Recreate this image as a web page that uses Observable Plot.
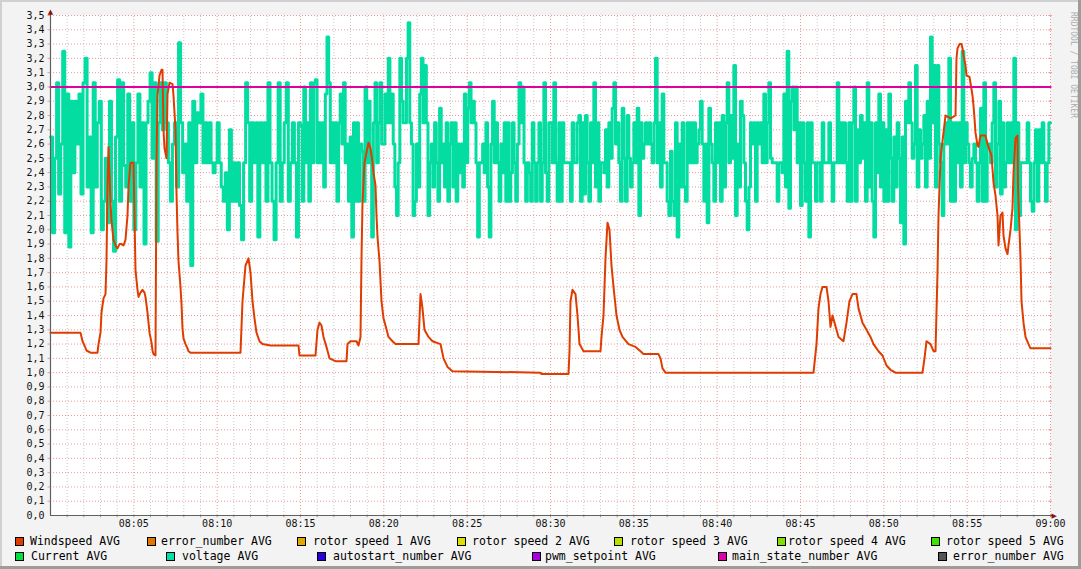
<!DOCTYPE html>
<html><head><meta charset="utf-8">
<script src="https://cdn.jsdelivr.net/npm/d3@7"></script>
<script src="https://cdn.jsdelivr.net/npm/@observablehq/plot@0.6"></script>
<style>
html,body{margin:0;padding:0;background:#fff;}
#wrap{position:relative;width:1081px;height:569px;background:#F3F3F3;overflow:hidden;font-family:"DejaVu Sans Mono",monospace;}
.edge{position:absolute;}
#chart{position:absolute;left:0;top:0;}
.sw{position:absolute;width:9px;height:9px;box-sizing:border-box;border:1px solid #000;}
.lt{position:absolute;font-size:11.5px;line-height:12px;color:#000;white-space:pre;}
#wm{position:absolute;left:1068px;top:12px;writing-mode:vertical-rl;font-size:8px;line-height:10px;color:#ADADAD;white-space:pre;}
</style></head><body>
<div id="wrap">
  <div id="chart"></div>
  <div id="legend"></div>
  <div id="wm">RRDTOOL / TOBI OETIKER</div>
  <div class="edge" style="left:0;top:0;width:1081px;height:2px;background:#D0D0D0"></div>
  <div class="edge" style="left:0;top:0;width:2px;height:569px;background:#D0D0D0"></div>
  <div class="edge" style="left:1078px;top:0;width:3px;height:569px;background:#9C9C9C"></div>
  <div class="edge" style="left:0;top:566px;width:1081px;height:3px;background:#9C9C9C"></div>
</div>
<script>
// ---- data ----
// Windspeed AVG: minutes after 08:00 and values
const windT = [0,1.8,1.92,2.04,2.16,2.4,2.82,2.88,3.0,3.06,3.18,3.3,3.36,3.42,3.48,3.6,3.66,3.78,3.9,4.02,4.14,4.26,4.38,4.5,4.62,4.68,4.8,4.98,5.1,5.22,5.28,5.4,5.52,5.64,5.7,5.82,5.88,5.94,6.06,6.12,6.18,6.3,6.36,6.42,6.54,6.66,6.72,6.78,6.84,6.96,7.02,7.14,7.32,7.38,7.5,7.56,7.62,7.68,7.8,7.86,7.92,7.98,8.1,8.22,8.28,8.4,11.4,11.52,11.7,11.88,12.0,12.12,12.24,12.36,12.54,12.72,13.2,14.88,14.94,15.9,16.02,16.14,16.26,16.38,16.56,16.74,17.1,17.76,17.82,18.0,18.36,18.48,18.6,18.66,18.72,18.84,19.08,19.2,19.32,19.38,19.5,19.56,19.62,19.74,19.86,19.98,20.1,20.28,20.52,20.7,22.08,22.2,22.32,22.44,22.68,22.92,23.4,23.58,23.82,24.12,29.4,29.46,31.08,31.14,31.2,31.32,31.5,31.62,31.74,31.98,33.0,33.06,33.18,33.3,33.42,33.54,33.66,33.78,33.96,34.14,34.32,34.68,35.1,35.4,35.58,36.48,36.6,36.72,36.9,45.78,45.96,46.08,46.2,46.32,46.56,46.68,46.8,46.92,47.04,47.28,47.58,47.76,47.94,48.12,48.36,48.48,48.72,48.96,49.2,49.38,49.68,49.92,50.16,50.4,50.7,52.32,52.44,52.56,52.8,52.98,53.1,53.22,53.28,53.4,53.7,54.0,54.3,54.36,54.42,54.54,54.66,54.72,54.78,54.9,54.96,55.14,55.32,55.38,55.44,55.5,55.62,55.68,55.8,56.1,56.22,56.46,56.58,56.7,56.82,56.88,57.0,57.12,57.18,57.3,57.42,57.48,57.6,57.72,57.78,57.9,58.02,58.05,58.2,58.26,58.38,58.5,58.68,58.8,60];
const windV = [1.28,1.28,1.22,1.19,1.155,1.14,1.14,1.2,1.28,1.42,1.52,1.55,1.78,2.3,2.58,2.2,2.06,1.93,1.89,1.87,1.9,1.9,1.89,1.93,2.1,2.3,2.47,2.47,1.72,1.58,1.53,1.56,1.58,1.56,1.53,1.42,1.35,1.28,1.21,1.155,1.13,1.12,2.47,2.94,3.08,3.12,3.12,2.7,2.57,2.5,2.95,3.03,3.02,2.94,2.7,2.26,1.98,1.78,1.6,1.48,1.31,1.24,1.2,1.17,1.15,1.14,1.14,1.5,1.75,1.8,1.7,1.5,1.38,1.28,1.22,1.2,1.19,1.19,1.12,1.12,1.3,1.35,1.33,1.25,1.18,1.1,1.08,1.08,1.2,1.22,1.22,1.19,1.25,1.8,2.19,2.47,2.61,2.57,2.47,2.4,2.31,2.1,1.95,1.78,1.5,1.38,1.33,1.25,1.22,1.2,1.2,1.55,1.45,1.3,1.25,1.22,1.2,1.1,1.04,1.01,1.0,0.99,0.99,1.15,1.5,1.58,1.55,1.4,1.2,1.15,1.15,1.25,1.4,1.8,2.05,2.0,1.75,1.6,1.4,1.3,1.25,1.2,1.18,1.15,1.13,1.13,1.1,1.03,1.0,1.0,1.2,1.45,1.55,1.6,1.6,1.5,1.32,1.4,1.35,1.25,1.22,1.35,1.5,1.55,1.55,1.45,1.35,1.3,1.25,1.2,1.15,1.12,1.05,1.02,1.0,1.0,1.1,1.22,1.2,1.15,1.15,1.7,2.1,2.5,2.8,2.78,2.8,3.2,3.27,3.3,3.3,3.27,3.22,3.15,3.08,3.07,2.94,2.87,2.78,2.68,2.59,2.58,2.66,2.66,2.6,2.52,2.33,2.24,2.1,1.89,2.1,2.12,1.96,1.87,1.83,1.89,2.0,2.15,2.4,2.64,2.66,2.3,1.8,1.5,1.35,1.25,1.2,1.17,1.17];

// voltage AVG, four quarter-hour blocks (08:00-08:15, 08:15-08:30, 08:30-08:45, 08:45-09:00)
const voltA = [2.65,1.98,2.5,3.03,2.25,2.6,3.25,1.98,2.95,1.88,2.9,2.4,2.9,2.6,2.95,2.25,3.03,3.2,2.3,2.65,1.98,3.03,2.3,2.75,2.9,2.0,2.2,2.5,2.05,2.9,2.2,1.85,2.65,3.05,2.2,3.03,2.45,2.3,2.95,2.2,2.75,2.0,2.47,2.95,2.3,2.75,1.9,2.75,2.9,3.1,2.5,3.03,1.92,2.75,3.03,2.7,3.03,2.75,2.47,2.2,2.6,2.75,2.3,3.31,2.75,2.4,2.6,2.2,2.75,1.75,2.9,2.47,2.82,2.75,2.95,2.47,2.75,2.47,2.75,2.47,2.4,2.47,2.75,2.47,2.3,2.2,2.4,2.0,2.7,2.2,2.47,2.2,2.47,2.17,1.93,2.47,3.03,2.75,2.2,2.75,2.47,2.75,1.95,2.75,2.47,2.75,2.2,3.03,2.47,2.2,1.93,2.47,3.03,2.2,2.47,2.75,3.03,2.2,2.47,2.75,2.47,1.95,2.75];
const voltB = [2.73,2.2,3.0,2.47,2.75,2.2,3.03,2.47,3.03,3.05,2.47,2.75,2.47,2.75,2.3,2.95,3.35,3.03,2.47,2.75,2.47,2.75,2.2,2.75,2.95,2.6,3.03,2.47,2.6,2.2,2.65,1.95,2.75,2.2,2.75,2.2,2.6,2.55,2.2,3.0,2.47,2.9,2.47,1.95,2.75,3.03,2.47,2.75,3.03,2.6,2.6,2.95,2.75,3.2,2.75,2.95,2.6,2.3,2.1,2.47,3.2,2.9,2.75,2.75,3.2,3.45,2.75,2.6,2.1,2.2,2.6,2.3,2.95,3.2,2.75,3.15,2.75,2.1,2.47,2.6,2.3,2.75,2.47,2.2,2.85,2.47,2.6,2.3,2.75,2.2,2.6,2.75,2.3,2.75,2.2,2.6,2.4,2.6,2.3,2.95,2.47,2.85,3.03,2.75,2.9,2.75,2.47,1.95,2.47,2.47,2.6,2.4,2.75,2.3,1.95,2.6,2.9,2.47,2.75,2.47,2.2,2.6,2.4,2.75,2.2,2.75,2.2,2.4,2.75,2.47,2.2,2.6,3.03,2.75,3.0,2.47,2.2,2.47,2.4,2.2,2.75,2.47,2.2,2.47,2.75,2.2,2.47,3.03,2.4,2.2,2.75];
const voltC = [2.75,2.47,3.03,2.47,2.2,2.75,2.2,2.75,2.47,2.47,2.47,2.47,2.2,2.75,2.47,2.47,2.75,2.8,2.2,2.75,2.25,2.8,2.47,2.2,2.75,2.47,3.03,2.3,2.75,2.2,2.47,2.47,2.4,2.7,2.3,2.75,2.5,2.85,3.03,2.6,2.75,2.47,2.2,2.85,2.5,2.2,2.8,2.5,2.3,2.47,2.75,2.47,2.85,2.1,2.75,2.5,2.6,2.75,2.6,2.75,2.6,2.47,2.75,3.2,2.47,2.75,2.3,2.95,2.47,2.47,2.2,2.1,2.55,2.2,2.1,2.75,1.95,2.6,2.3,2.75,2.3,2.2,2.75,2.47,2.75,2.47,2.75,2.47,2.6,2.7,2.9,2.6,2.2,2.6,2.05,2.85,2.6,2.47,2.2,2.75,2.47,2.75,2.2,2.8,2.3,2.75,3.03,2.47,2.8,2.5,3.15,2.1,2.6,2.3,2.9,2.8,2.47,2.2,2.0,2.3,2.75,2.6,2.75,2.2,2.75,2.6,2.75,2.47,2.95,2.47,2.75,3.03,2.5,2.47,2.47,2.47,2.2,2.47,2.47,2.4,2.95,2.3,3.25,2.15,2.9,3.0,2.7,3.0,2.47,2.75];
const voltD = [2.17,2.75,2.47,2.2,2.75,1.95,2.75,2.47,2.47,2.2,2.47,2.47,2.2,2.75,2.47,2.47,2.47,2.75,2.47,2.2,2.47,2.47,3.03,2.47,2.75,2.47,2.75,2.47,2.2,2.75,2.2,2.75,3.0,2.2,2.7,2.47,2.8,2.5,2.75,2.2,3.03,2.3,2.75,2.2,1.95,2.75,2.4,2.95,2.3,2.75,2.2,2.7,2.2,2.95,2.5,2.2,2.65,2.3,2.75,2.5,2.05,2.65,1.9,2.9,2.75,3.03,2.75,2.5,2.6,3.15,2.3,2.7,2.5,2.6,2.8,2.3,2.9,2.5,3.35,2.75,3.15,2.3,3.15,2.6,2.47,2.1,2.6,2.75,2.6,3.2,2.2,2.75,2.2,2.75,2.47,2.75,2.3,3.25,2.47,2.75,2.6,2.47,2.3,2.5,2.6,2.47,2.2,2.47,2.85,2.2,3.03,2.2,2.6,2.6,2.47,2.75,3.03,2.3,2.6,2.9,2.25,2.75,2.3,2.47,2.75,2.47,2.75,2.47,3.2,2.0,2.75,2.1,2.47,2.47,2.47,2.47,2.75,2.47,2.2,2.13,2.47,2.7,2.2,2.7,2.47,2.75,2.47,2.2,2.47,2.75];

// main_state_number AVG
const mainT = [0, 60];
const mainV = [3.0, 3.0];

// tick labels
const xTickMinutes = [5,10,15,20,25,30,35,40,45,50,55,60];
const xTickLabels = ["08:05","08:10","08:15","08:20","08:25","08:30","08:35","08:40","08:45","08:50","08:55","09:00"];
const yTickValues = [0,0.1,0.2,0.3,0.4,0.5,0.6,0.7,0.8,0.9,1.0,1.1,1.2,1.3,1.4,1.5,1.6,1.7,1.8,1.9,2.0,2.1,2.2,2.3,2.4,2.5,2.6,2.7,2.8,2.9,3.0,3.1,3.2,3.3,3.4,3.5];
const yTickLabels = ["0,0","0,1","0,2","0,3","0,4","0,5","0,6","0,7","0,8","0,9","1,0","1,1","1,2","1,3","1,4","1,5","1,6","1,7","1,8","1,9","2,0","2,1","2,2","2,3","2,4","2,5","2,6","2,7","2,8","2,9","3,0","3,1","3,2","3,3","3,4","3,5"];

// legend
const row1Labels = ["Windspeed AVG","error_number AVG","rotor speed 1 AVG","rotor speed 2 AVG","rotor speed 3 AVG","rotor speed 4 AVG","rotor speed 5 AVG"];
const row1Colors = ["#E03C00","#E07800","#E0A800","#E0E000","#B8E000","#80E000","#40E000"];
const row2Labels = ["Current AVG","voltage AVG","autostart_number AVG","pwm_setpoint AVG","main_state_number AVG","error_number AVG"];
const row2Colors = ["#00E040","#00E0A8","#2800E0","#A800E0","#E000A8","#555555"];

// ---- layout ----
const row1SwX = [15,147,297,457,614,777,931];
const row1TxX = [30,161,313,472,630,788,946];
const row2SwX = [15,166,317,532,718,938];
const row2TxX = [31,182,333,545,732,953];

const FONT = "DejaVu Sans Mono";
const seg = (arr, start, span) => arr.map((v, i) => ({t: start + span * i / arr.length, v}));
const voltData = [...seg(voltA, 0, 15), ...seg(voltB, 15, 15), ...seg(voltC, 30, 15), ...seg(voltD, 45, 15)];
voltData.push({t: 60, v: voltD[voltD.length - 1]});
const windData = windT.map((t, i) => ({t, v: windV[i]}));
const mainData = mainT.map((t, i) => ({t, v: mainV[i]}));
const minorMinutes = d3.range(1, 60).filter(m => m % 5 !== 0);
const allMinutes = d3.range(1, 61);

const chart = Plot.plot({
  width: 1081, height: 530,
  marginLeft: 50, marginRight: 31, marginTop: 15, marginBottom: 15,
  x: {domain: [0, 60], axis: null},
  y: {domain: [0, 3.5], axis: null},
  style: {background: "transparent", overflow: "visible"},
  marks: [
    Plot.frame({fill: "white", stroke: null}),
    Plot.ruleX(minorMinutes, {x: d => d, y1: 0, y2: 3.51, stroke: "#C8C8C8", strokeDasharray: "1,2"}),
    Plot.ruleX(xTickMinutes, {x: d => d, y1: 0, y2: 3.51, stroke: "#EC9A9A", strokeDasharray: "1,2"}),
    Plot.ruleY(yTickValues.slice(1), {y: d => d, x1: 0, x2: 60, stroke: "#EC9A9A", strokeDasharray: "1,2"}),
    Plot.ruleY(yTickValues.slice(1), {y: d => d, x1: -0.15, x2: 0, stroke: "#EC9A9A"}),
    Plot.ruleY(yTickValues.slice(1), {y: d => d, x1: 59.9, x2: 60.12, stroke: "#EC9A9A"}),
    Plot.ruleX(allMinutes, {x: d => d, y1: 0, y2: -0.016, stroke: "#999"}),
    Plot.line(voltData, {x: "t", y: "v", curve: "step-after", stroke: "#04DDA1", strokeWidth: 3}),
    Plot.line(windData, {x: "t", y: "v", stroke: "#E03C00", strokeWidth: 2}),
    Plot.line(mainData, {x: "t", y: "v", stroke: "#E000A0", strokeWidth: 2}),
    Plot.ruleX([0], {x: d => d, y1: 0, y2: 3.53, stroke: "#606060", strokeWidth: 1.2}),
    Plot.ruleY([0], {y: d => d, x1: 0, x2: 60.25, stroke: "#606060", strokeWidth: 1.2}),
    Plot.text([0], {x: 0, y: 3.525, text: () => "▲", fill: "#8B1010", fontSize: 7, fontFamily: "DejaVu Sans"}),
    Plot.text([0], {x: 60.22, y: 0, text: () => "▶", fill: "#8B1010", fontSize: 7, fontFamily: "DejaVu Sans"}),
    Plot.text(yTickValues, {x: 0, y: d => d, text: (d, i) => yTickLabels[i], textAnchor: "end", dx: -6, fontSize: 10, fontFamily: FONT, fill: "#111"}),
    Plot.text(xTickMinutes, {x: d => d, y: 0, text: (d, i) => xTickLabels[i], dy: 8, fontSize: 10, fontFamily: FONT, fill: "#111"})
  ]
});
document.getElementById("chart").appendChild(chart);

// legend
const leg = document.getElementById("legend");
function addItem(label, color, swx, txx, swy, txy) {
  const s = document.createElement("div");
  s.className = "sw"; s.style.left = swx + "px"; s.style.top = swy + "px"; s.style.background = color;
  leg.appendChild(s);
  const t = document.createElement("div");
  t.className = "lt"; t.style.left = txx + "px"; t.style.top = txy + "px"; t.textContent = label;
  leg.appendChild(t);
}
row1Labels.forEach((l, i) => addItem(l, row1Colors[i], row1SwX[i], row1TxX[i], 537, 535));
row2Labels.forEach((l, i) => addItem(l, row2Colors[i], row2SwX[i], row2TxX[i], 552, 550));
</script>
</body></html>
